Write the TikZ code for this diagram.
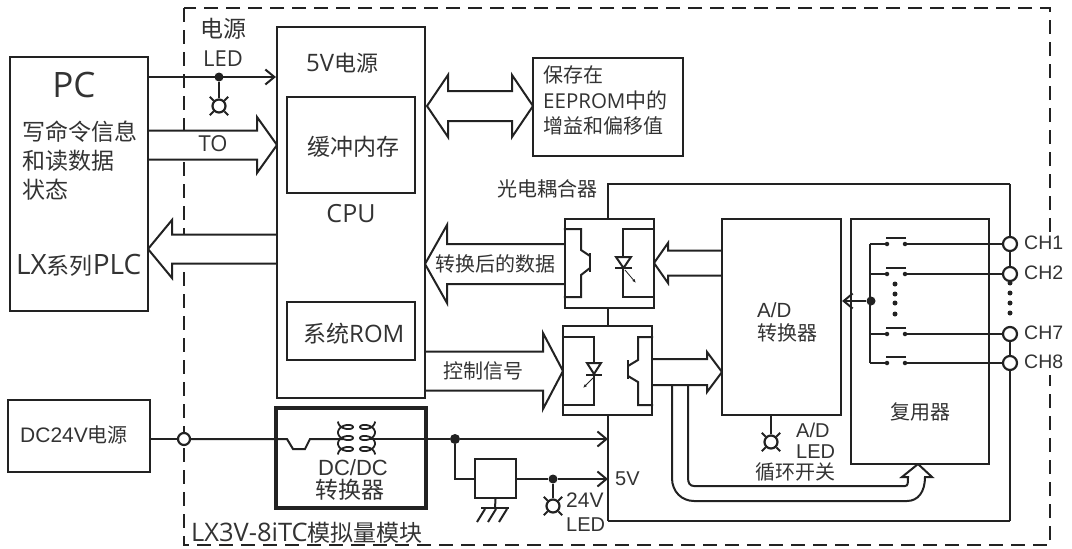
\documentclass[tikz,border=0pt]{standalone}
\usepackage{fontspec}
\setmainfont{Noto Sans CJK SC}
\newfontfamily\lat{Liberation Sans}
\newfontfamily\opn{Open Sans}
\usetikzlibrary{arrows.meta,calc}
\definecolor{ink}{HTML}{222222}
\definecolor{txtc}{HTML}{333333}
\newcommand\ol[2]{{\opn\fontsize{#1}{#1}\selectfont #2}}
\newcommand\al[2]{{\lat\fontsize{#1}{#1}\selectfont #2}}
\tikzset{
  line/.style={draw=ink,line width=2pt},
  barb/.style={-{Straight Barb[length=9pt,width=15pt,line width=2pt]}},
  box/.style={draw=ink,line width=2.2pt,fill=white,inner sep=0pt,rectangle},
  sz/.style={font=\fontsize{#1}{#1}\selectfont},
  lbl/.style={text=txtc,inner sep=0pt,sz=#1},
  lb/.style={text=txtc,inner sep=0pt,anchor=west,sz=#1},
  blob/.style={circle,fill=ink,inner sep=0pt,minimum size=#1},
  ring/.style={circle,draw=ink,line width=2.2pt,fill=white,inner sep=0pt,minimum size=#1},
  sw/.style={circle,fill=ink,inner sep=0pt,minimum size=4.5pt},
  tiny/.style={circle,fill=ink,inner sep=0pt,minimum size=5pt},
}
% name x1 y1 x2 y2
\newcommand\bx[6][]{\node[box,#1,minimum width={(#5-#3)*1pt},minimum height={(#6-#4)*1pt}] (#2) at ({(#3+#5)/2},{(#4+#6)/2}) {};}
% x0 xback xtip ymid shaft head
\newcommand\barrow[6]{\path[line,fill=white,line join=miter] (#1,#4-#5) -- (#2,#4-#5) -- (#2,#4-#6) -- (#3,#4) -- (#2,#4+#6) -- (#2,#4+#5) -- (#1,#4+#5);}
\newcommand\lamp[3]{\node[ring=13pt] (#1) at (#2,#3) {};
  \draw[line] (#1.45) -- ++(3.8,-3.8) (#1.135) -- ++(-3.8,-3.8) (#1.-45) -- ++(3.8,3.8) (#1.-135) -- ++(-3.8,3.8);}
\newcommand\swrow[2]{%
  \node[sw] (#1a) at (887,#2) {}; \node[sw] (#1b) at (905,#2) {};
  \node[ring=14pt] (#1c) at (1010,#2) {};
  \draw[line] (bus|-#1a) -- (#1a) (#1b) -- (#1c);
  \draw[line] (886,#2-6) -- (906,#2-6);}
\begin{document}
\begin{tikzpicture}[x=1pt,y=-1pt]
\useasboundingbox (0,0) rectangle (1072,549);
\draw[draw=ink,line width=2.5pt,dash pattern=on 14pt off 8pt] (184,8) rectangle (1050,545);
\fill[white] (1042,232) rectangle (1058,375);

% isolated frame
\coordinate (frameTL) at (608,184);
\coordinate (frameTR) at (1010,184);
\coordinate (frameBL) at (608,521);
\coordinate (frameBR) at (1010,521);
\draw[line] (frameBL) -- (frameTL) -- (frameTR) (frameBL) -- (frameBR);

% loop switch arrow
\coordinate (uo) at (672,385);
\coordinate (ui) at (688,385);
\path[line,fill=white,line join=miter] (uo) -- (672,478) .. controls (672,492) and (682,501) .. (694,501) -- (907,501) .. controls (918,501) and (925,492) .. (925,477) -- (932,477) -- (918,464) -- (902,477) -- (908,477) .. controls (908,483) and (908,486) .. (905,486) -- (694,486) .. controls (690,486) and (688,483) .. (688,478) -- (ui);

% block arrows
\barrow{148}{257}{277}{145}{14.5}{28}
\barrow{277}{172}{148}{249}{14.5}{29}
\barrow{565}{447}{425}{264}{20}{39}
\barrow{425}{543}{563}{371}{19.5}{38}
\barrow{722}{668}{654}{263}{12.5}{20}
\barrow{652}{707}{722}{372}{13}{20}
\path[line,fill=white,line join=miter] (427,106) -- (448,75) -- (448,91) -- (512,91) -- (512,75) -- (533,106) -- (512,137) -- (512,121) -- (448,121) -- (448,137) -- cycle;

% boxes
\bx{pc}{10}{57}{148}{311}
\bx{cpu}{277}{27}{425}{398}
\bx{buf}{287}{97}{415}{193}
\bx{rom}{287}{302}{415}{360}
\bx{ee}{533}{58}{683}{156}
\bx{dc24}{8}{400}{150}{472}
\bx{op1}{565}{219}{654}{308}
\bx{op2}{563}{326}{652}{415}
\bx{adc}{722}{219}{841}{415}
\bx{mux}{851}{219}{989}{464}

% top line and LED
\node[blob=9pt] (j1) at (219,77) {};
\draw[line,barb] (pc.east|-j1) -- (cpu.west|-j1);
\lamp{led1}{219}{106}
\draw[line] (j1) -- (led1);

% opto 1
\draw[line] (op1.west|-0,229) -- (581,229) -- (581,250) -- (590,256);
\draw[line] (590,268) -- (581,275) -- (581,297) -- (op1.west|-0,297);
\draw[line,line width=2.6pt] (590,253) -- (590,272);
\draw[line] (op1.east|-0,229) -- (623,229) -- (623,297) -- (op1.east|-0,297);
\draw[line,fill=white] (616,257) -- (631,257) -- (623.5,268) -- cycle;
\draw[line] (615,268) -- (632,268);
\draw[draw=ink,line width=.8pt,-{Latex[length=4pt,width=3pt]}] (625,270) -- (636,283);

% opto 2
\draw[line] (op2.west|-0,337) -- (594,337) -- (594,405) -- (op2.west|-0,405);
\draw[line,fill=white] (587,363) -- (601,363) -- (594,374) -- cycle;
\draw[line] (586,375) -- (602,375);
\draw[draw=ink,line width=.8pt,-{Latex[length=4pt,width=3pt]}] (593,378) -- (583,388);
\draw[line] (op2.east|-0,337) -- (638,337) -- (638,360) -- (628,366);
\draw[line] (628,376) -- (638,382) -- (638,405) -- (op2.east|-0,405);
\draw[line,line width=2.6pt] (628,360) -- (628,379);

% A/D LED
\lamp{led2}{771}{442}
\draw[line] (led2) -- (led2|-adc.south);

% switches
\coordinate (bus) at (870,244);
\draw[line] (870,244) -- (870,363);
\swrow{s1}{244}
\swrow{s2}{274}
\swrow{s7}{334}
\swrow{s8}{363}
\node[blob=9pt] (j2) at (871,301) {};
\draw[line,barb] (j2) -- (adc.east|-j2);
\foreach \i/\y in {a/284,b/294,c/303,d/314}{\node[tiny] (d\i) at (895,\y) {};}
\foreach \i/\y in {e/283,f/293,g/303,h/313}{\node[tiny] (d\i) at (1010,\y) {};}
\draw[line] (frameTR) -- (s1c) (s1c) -- (s2c) (s7c) -- (s8c) (s8c) -- (frameBR);

% power line
\bx[line width=3.4pt]{dcdc}{276}{408}{426}{508}
\node[ring=12pt] (pin) at (184,439) {};
\node[blob=10pt] (j3) at (455,439) {};
\coordinate (pw) at (608,439);
\draw[line] (dc24.east|-pin) -- (pin);
\draw[line] (pin) -- (287,439) -- (293,449) -- (305,449) -- (310,439) -- (343,439);
\draw[line] (370,439) -- (j3);
\draw[line,barb] (j3) -- (pw);
\foreach \xc/\sgn in {345.5/1,367.5/-1}{
  \draw[ink,line width=1.8pt,smooth,samples=90,domain=180:1260,variable=\t]
    plot ({\xc+\sgn*7.5*cos(\t)},{421.5+33*((\t-180)/1080)-4.5*sin(\t)});
}
% regulator
\bx{reg}{475}{459}{516}{498}
\draw[line] (j3) -- (455,479) -- (reg.west|-0,479);
\node[blob=9pt] (j4) at (553,479) {};
\coordinate (p5) at (608,479);
\draw[line] (reg.east|-j4) -- (j4);
\draw[line,barb] (j4) -- (p5);
\lamp{led3}{553}{506}
\draw[line] (j4) -- (led3);
\coordinate (gnd) at (495,508);
\draw[line] (reg.south) -- (gnd);
\draw[line] (481,508) -- (509,508);
\draw[line] (485,509) -- (477,522) (496,509) -- (488,522) (507,509) -- (499,522);

% texts
\node[lbl=23] (tA) at (223,29) {电源};
\node[lbl=22] (tB) at (223,59) {\opn LED};
\node[lb=22] (tC) at (306,63) {\ol{24}{5V}电源};
\node[lbl=23] (tD) at (353,147) {缓冲内存};
\node[lbl=25] (tE) at (351,214) {\opn CPU};
\node[lb=23] (tF) at (303,334) {系统\ol{24}{ROM}};
\node[lbl=35] (tG) at (74,85) {\opn PC};
\node[lb=23] (tH) at (22,132) {写命令信息};
\node[lb=23] (tI) at (22,161) {和读数据};
\node[lb=23] (tJ) at (22,190) {状态};
\node[lb=23] (tK) at (16,265) {\ol{28}{LX}系列\ol{28}{PLC}};
\node[lbl=22] (tL) at (213,144) {\opn TO};
\node[lb=20] (tM) at (543,75) {保存在};
\node[lb=21] (tN) at (543,100) {\ol{20.5}{EEPROM}中的};
\node[lb=20] (tO) at (543,126) {增益和偏移值};
\node[lb=20] (tP) at (497,189) {光电耦合器};
\node[lbl=20] (tQ) at (495,264) {转换后的数据};
\node[lbl=20] (tR) at (483,371) {控制信号};
\node[lb=20.5] (tS) at (757,310) {\lat A/D};
\node[lb=20] (tT) at (757,333) {转换器};
\node[lbl=20] (tU) at (920,412) {复用器};
\node[lb=20] (tV) at (796,430) {\lat A/D};
\node[lb=20] (tW) at (796,452) {\lat LED};
\node[lb=20] (tX) at (755,472) {循环开关};
\foreach \n/\y in {1/243,2/273,7/333,8/362}{\node[lb=19.5] (ch\n) at (1024,\y) {\lat CH\n};}
\node[lb=20] (tY) at (20,435) {\al{21}{DC24V}电源};
\node[lbl=22] (tZ) at (353,468) {\lat DC/DC};
\node[lbl=23] (ta) at (350,490) {转换器};
\node[lb=23] (tb) at (191,533) {\ol{25.5}{LX3V-8iTC}模拟量模块};
\node[lb=20] (tc) at (615,479) {\lat 5V};
\node[lb=21] (td) at (566,500) {\lat 24V};
\node[lb=20] (te) at (566,525) {\lat LED};
\end{tikzpicture}
\end{document}
